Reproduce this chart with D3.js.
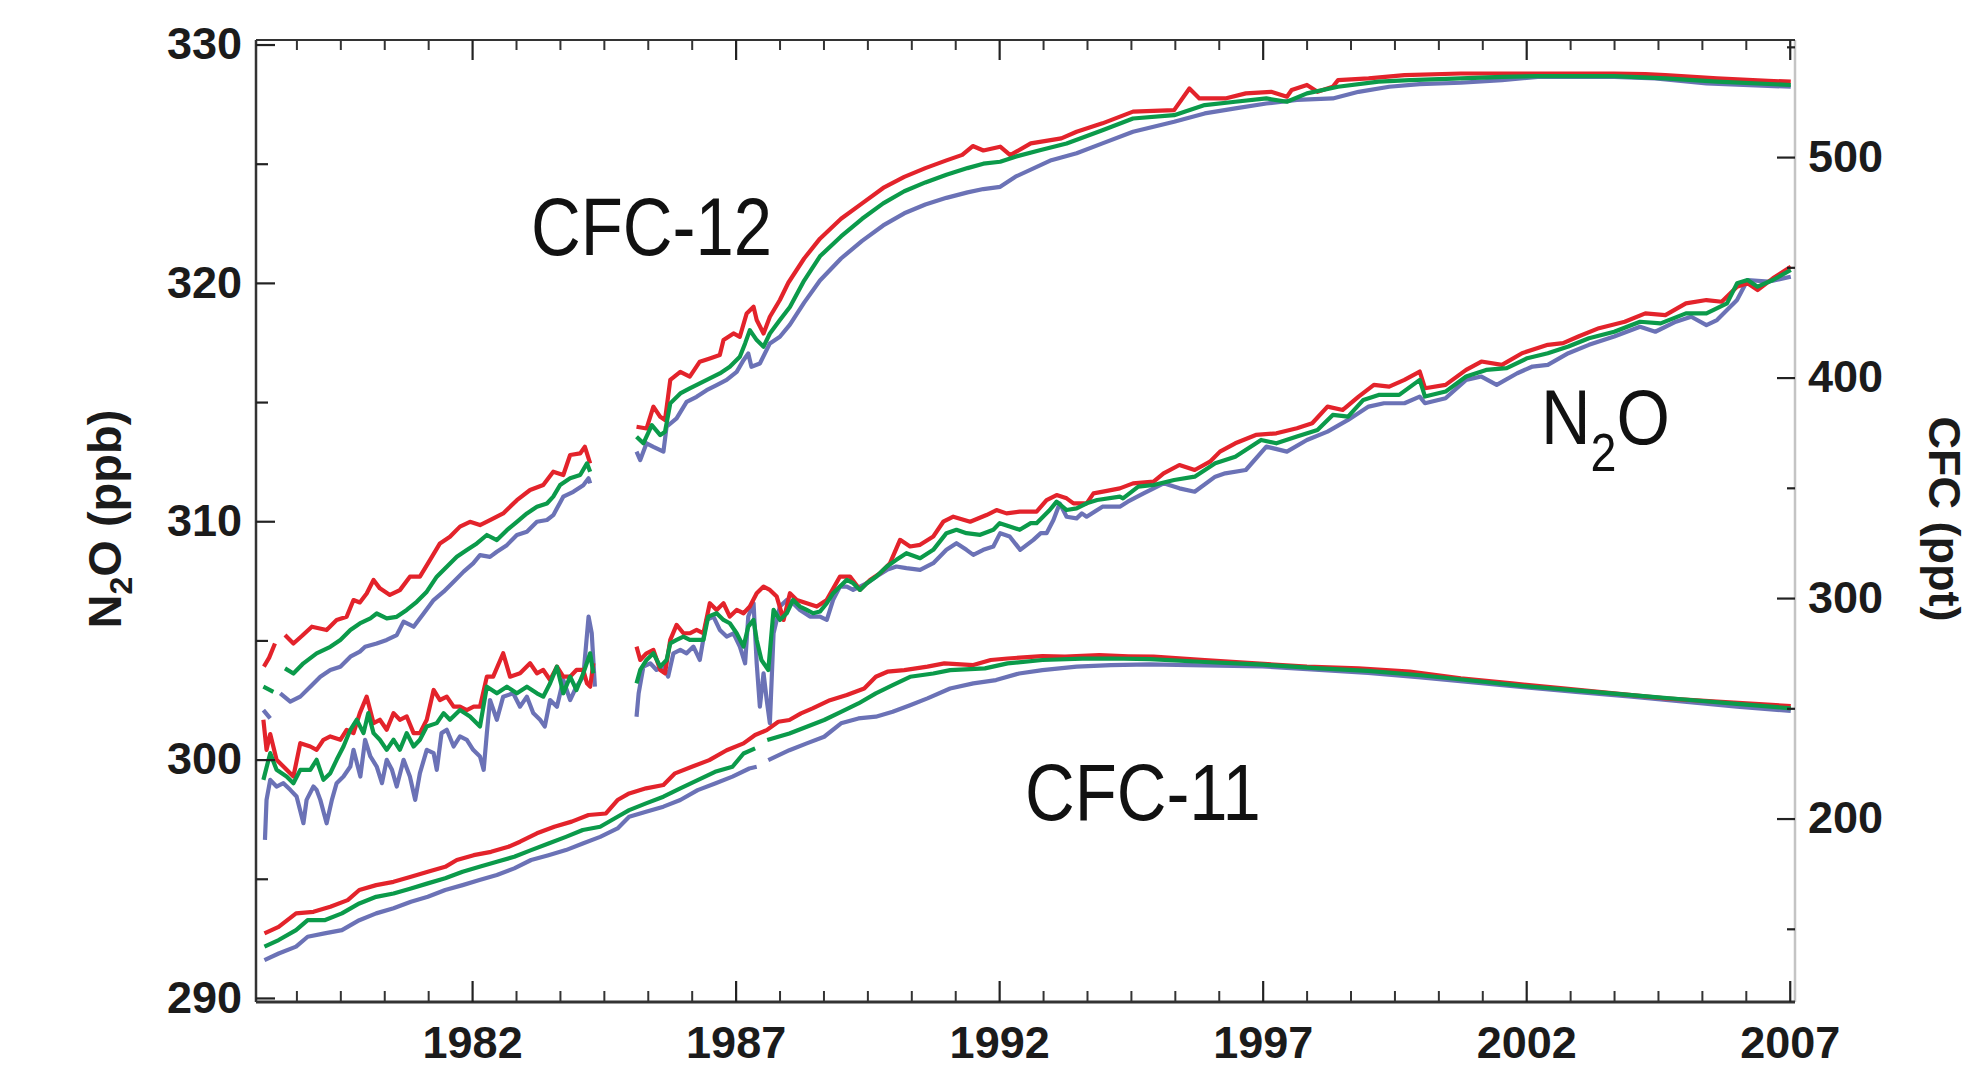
<!DOCTYPE html>
<html><head><meta charset="utf-8">
<script src="https://cdn.jsdelivr.net/npm/d3@7"></script>
<style>body{margin:0;background:#fff}</style>
</head><body><svg id="chart" width="1973" height="1075"></svg>
<script>
// ---- tick values ----
const n2oTicks = [290, 300, 310, 320, 330];
const n2oMinorTicks = [295, 305, 315, 325];
const cfcTicks = [200, 300, 400, 500];
const cfcMinorTicks = [150, 250, 350, 450, 550];
const yearLabels = [1982, 1987, 1992, 1997, 2002, 2007];

// ---- series: [year, value]; null = gap in record ----
const cfc12Red = [[1978.05,268.9],[1978.15,273],[1978.26,279.4],null,[1978.45,283.2],[1978.61,279.4],[1978.78,283],[1978.96,287.0],[1979.24,285.5],[1979.43,290.0],[1979.62,291.5],[1979.75,299.1],[1979.87,298],[1980.00,302.1],[1980.13,308.2],[1980.25,304.4],[1980.44,301.4],[1980.63,303.6],[1980.82,309.7],[1981.01,309.7],[1981.20,317.2],[1981.39,324.8],[1981.58,327.8],[1981.77,332.4],[1981.96,334.6],[1982.15,333.1],[1982.34,335.4],[1982.59,338.4],[1982.85,344.4],[1983.10,349.0],[1983.35,351.3],[1983.54,357.3],[1983.73,355.8],[1983.86,364.9],[1984.05,365.6],[1984.14,368.6],[1984.24,361.1],null,
[1985.12,377.7],[1985.31,376.9],[1985.44,386.8],[1985.57,382.2],[1985.66,380.7],[1985.76,398.9],[1985.95,402.6],[1986.13,400.4],[1986.32,407.2],[1986.51,408.7],[1986.70,410.2],[1986.77,417.0],[1986.96,420.0],[1987.08,418.5],[1987.21,429.1],[1987.34,432.1],[1987.40,426.1],[1987.53,420.0],[1987.65,427.6],[1987.84,435.2],[1988.0,443],[1988.3,454],[1988.6,463],[1989.0,472],[1989.4,479],[1989.8,486],[1990.2,491],[1990.6,495],[1991.0,498.5],[1991.3,501],[1991.5,505],[1991.7,503],[1992.02,504.7],[1992.21,500.9],[1992.60,506.2],[1993.18,508.5],[1993.47,511.5],[1993.96,515.3],[1994.54,520.6],[1995.32,521.3],[1995.61,531.1],[1995.80,526.6],[1996.29,526.6],[1996.68,528.9],[1997.16,529.6],[1997.46,527.4],[1997.55,530.4],[1997.84,532.7],[1998.04,529.6],[1998.33,531.9],[1998.43,534.9],[1999.01,535.7],[1999.69,537.2],[2000.76,537.9],[2001.73,537.9],[2002.70,537.9],[2003.67,537.9],[2004.26,537.6],[2004.64,537.2],[2005.62,535.7],[2006.59,534.6],[2007.02,534.2]];
const cfc12Green = [[1978.04,259.8],[1978.23,257.5],null,[1978.45,268.1],[1978.61,265.8],[1978.80,270.4],[1979.05,274.9],[1979.31,277.9],[1979.50,281.0],[1979.69,285.5],[1979.87,288.5],[1980.07,290.8],[1980.19,293.0],[1980.38,290.8],[1980.57,291.5],[1980.76,294.6],[1980.95,298.3],[1981.14,302.9],[1981.33,309.7],[1981.52,314.2],[1981.71,318.7],[1981.90,321.8],[1982.09,324.8],[1982.28,328.6],[1982.47,326.3],[1982.66,330.8],[1982.85,334.6],[1983.04,338.4],[1983.23,341.4],[1983.42,342.9],[1983.54,346.0],[1983.67,351.3],[1983.86,354.3],[1984.05,355.8],[1984.18,361.1],[1984.24,357.3],null,
[1985.12,373.2],[1985.25,370.2],[1985.41,378.4],[1985.57,373.9],[1985.66,375.4],[1985.76,388.3],[1985.95,392.8],[1986.13,395.1],[1986.32,397.4],[1986.51,399.6],[1986.70,401.9],[1986.89,404.9],[1987.08,409.4],[1987.18,415.5],[1987.27,421.5],[1987.40,417.0],[1987.53,414.0],[1987.65,420.0],[1987.84,426.1],[1988.03,432],[1988.3,444],[1988.6,455],[1989.0,464],[1989.4,472],[1989.8,479],[1990.2,484.5],[1990.6,488.5],[1991.0,492],[1991.4,495],[1991.7,497],[1992.02,497.9],[1992.31,500.2],[1992.79,503.2],[1993.28,506.2],[1993.96,512.2],[1994.54,517.5],[1995.32,519.0],[1995.90,523.6],[1996.48,525.1],[1997.07,526.6],[1997.46,525.1],[1997.84,528.9],[1998.43,531.9],[1999.20,534.2],[1999.79,534.9],[2000.76,535.7],[2001.54,536.4],[2002.22,536.7],[2003.67,536.7],[2004.64,535.7],[2005.62,534.2],[2007.02,532.7]];
const cfc12Blue = [[1978.04,249.2],[1978.17,245.4],null,[1978.36,256.8],[1978.55,253.0],[1978.74,255.3],[1978.93,259.8],[1979.12,264.3],[1979.31,267.4],[1979.50,268.9],[1979.69,273.4],[1979.87,275.7],[1979.97,277.9],[1980.19,279.4],[1980.38,281.0],[1980.57,283.2],[1980.70,289.3],[1980.89,287.0],[1981.08,293.0],[1981.27,299.1],[1981.46,302.9],[1981.65,307.4],[1981.84,312.0],[1982.02,315.7],[1982.15,319.5],[1982.34,318.7],[1982.47,321.0],[1982.66,324.0],[1982.85,328.6],[1983.04,330.1],[1983.23,334.6],[1983.42,335.4],[1983.54,337.6],[1983.73,346.0],[1983.92,348.2],[1984.11,351.2],[1984.21,354.3],[1984.24,352.0],null,
[1985.12,366.4],[1985.19,362.6],[1985.31,370.2],[1985.44,368.6],[1985.63,366.4],[1985.69,377.7],[1985.88,381.5],[1986.07,389.0],[1986.26,391.3],[1986.45,394.3],[1986.64,396.6],[1986.83,398.9],[1987.02,402.6],[1987.15,407.9],[1987.24,410.9],[1987.30,404.9],[1987.46,406.4],[1987.65,415.5],[1987.84,418.5],[1988.03,424],[1988.3,434],[1988.6,444],[1989.0,454],[1989.4,462],[1989.8,469],[1990.2,474.5],[1990.6,478.5],[1991.0,481.5],[1991.4,484],[1991.7,485.5],[1992.02,486.5],[1992.31,491.1],[1992.99,498.6],[1993.47,501.7],[1993.96,506.2],[1994.54,511.5],[1995.32,516.0],[1995.90,519.8],[1996.48,522.1],[1997.07,524.3],[1997.65,525.9],[1998.33,526.6],[1998.82,529.6],[1999.40,531.9],[1999.98,533.1],[2000.76,533.7],[2001.54,534.9],[2002.22,536.4],[2003.67,536.4],[2004.45,535.7],[2005.42,533.4],[2007.02,531.9]];

const n2oRed = [[1978.04,301.67],[1978.10,300.41],[1978.17,301.07],[1978.29,299.99],[1978.42,299.71],[1978.61,299.29],[1978.74,300.69],[1978.93,300.55],[1979.05,300.41],[1979.18,300.83],[1979.31,300.97],[1979.50,300.83],[1979.62,301.25],[1979.75,301.11],[1979.87,301.95],[1980.00,302.64],[1980.13,301.53],[1980.25,301.67],[1980.38,301.25],[1980.51,301.95],[1980.63,301.67],[1980.76,301.81],[1980.89,301.11],[1981.01,301.11],[1981.14,301.67],[1981.27,302.92],[1981.39,302.50],[1981.52,302.64],[1981.65,302.22],[1981.77,302.22],[1981.90,302.08],[1982.03,302.22],[1982.15,302.22],[1982.28,303.48],[1982.40,303.48],[1982.59,304.46],[1982.72,303.48],[1982.91,303.62],[1983.10,304.04],[1983.23,303.62],[1983.35,303.76],[1983.48,303.34],[1983.61,303.90],[1983.73,303.48],[1983.86,303.48],[1983.98,303.76],[1984.11,303.76],[1984.18,303.20],[1984.24,303.06],[1984.30,304.04],null,
[1985.12,304.74],[1985.19,304.18],[1985.31,304.46],[1985.44,304.60],[1985.57,303.76],[1985.66,303.62],[1985.76,305.02],[1985.88,305.65],[1986.01,305.30],[1986.13,305.30],[1986.26,305.44],[1986.39,305.30],[1986.51,306.56],[1986.64,306.28],[1986.77,306.56],[1986.89,306.00],[1987.02,306.28],[1987.15,306.14],[1987.27,306.42],[1987.40,306.98],[1987.53,307.26],[1987.65,307.12],[1987.78,306.84],[1987.91,305.86],[1988.03,306.98],[1988.16,306.70],[1988.35,306.56],[1988.54,306.42],[1988.73,306.70],[1988.98,307.68],[1989.17,307.68],[1989.36,307.12],[1989.55,307.54],[1989.74,307.82],[1989.93,308.24],[1990.12,309.22],[1990.31,308.94],[1990.50,309.01],[1990.75,309.36],[1990.94,309.98],[1991.13,310.19],[1991.45,309.98],[1991.76,310.26],[1991.95,310.47],[1992.14,310.33],[1992.39,310.40],[1992.71,310.40],[1992.90,310.89],[1993.09,311.10],[1993.28,310.96],[1993.41,310.75],[1993.66,310.75],[1993.79,311.17],[1993.97,311.24],[1994.29,311.38],[1994.54,311.59],[1994.93,311.66],[1995.12,312.01],[1995.42,312.36],[1995.71,312.15],[1996.00,312.50],[1996.19,312.92],[1996.48,313.27],[1996.87,313.62],[1997.26,313.69],[1997.65,313.90],[1997.94,314.11],[1998.23,314.81],[1998.52,314.67],[1998.82,315.23],[1999.11,315.72],[1999.40,315.65],[1999.69,315.93],[1999.98,316.28],[2000.08,315.58],[2000.47,315.72],[2000.86,316.35],[2001.15,316.70],[2001.54,316.56],[2001.92,317.05],[2002.41,317.40],[2002.70,317.47],[2002.99,317.75],[2003.38,318.10],[2003.87,318.37],[2004.26,318.72],[2004.64,318.65],[2005.03,319.14],[2005.42,319.28],[2005.71,319.21],[2006.00,319.84],[2006.20,319.98],[2006.39,319.70],[2006.68,320.19],[2007.02,320.68]];
const n2oGreen = [[1978.04,299.15],[1978.17,300.27],[1978.29,299.57],[1978.48,299.29],[1978.61,299.01],[1978.74,299.57],[1978.93,299.57],[1979.05,299.99],[1979.18,299.15],[1979.31,299.43],[1979.43,299.99],[1979.56,300.55],[1979.69,301.25],[1979.81,301.67],[1979.94,301.11],[1980.03,301.95],[1980.13,301.11],[1980.25,300.83],[1980.38,300.41],[1980.51,300.83],[1980.63,300.41],[1980.76,301.11],[1980.89,300.55],[1981.01,300.83],[1981.14,301.39],[1981.33,301.53],[1981.46,301.95],[1981.58,301.67],[1981.77,302.08],[1981.96,301.81],[1982.15,301.39],[1982.28,303.06],[1982.47,302.78],[1982.66,303.06],[1982.85,302.78],[1983.04,303.06],[1983.23,302.78],[1983.35,302.64],[1983.48,303.20],[1983.61,303.90],[1983.73,302.78],[1983.86,303.48],[1983.98,302.92],[1984.11,303.62],[1984.24,304.46],[1984.30,303.62],null,
[1985.12,303.20],[1985.19,303.76],[1985.31,304.18],[1985.44,304.46],[1985.57,303.90],[1985.69,304.18],[1985.76,304.88],[1985.88,305.02],[1986.01,305.16],[1986.13,305.02],[1986.26,305.02],[1986.39,305.02],[1986.48,306.00],[1986.64,306.14],[1986.77,305.86],[1986.89,305.72],[1987.02,305.30],[1987.15,304.74],[1987.24,305.58],[1987.34,305.86],[1987.40,305.02],[1987.49,304.18],[1987.62,303.76],[1987.72,306.28],[1987.84,305.86],[1987.97,306.14],[1988.09,306.70],[1988.22,306.42],[1988.35,306.28],[1988.47,306.14],[1988.60,306.21],[1988.73,306.56],[1988.85,306.98],[1988.98,307.26],[1989.11,307.54],[1989.23,307.40],[1989.36,307.12],[1989.49,307.40],[1989.67,307.68],[1989.87,308.10],[1990.05,308.38],[1990.24,308.66],[1990.50,308.45],[1990.75,308.80],[1991.00,309.50],[1991.19,309.64],[1991.38,309.50],[1991.64,309.43],[1991.89,309.64],[1992.01,309.92],[1992.20,309.78],[1992.39,309.64],[1992.60,309.92],[1992.71,309.92],[1992.96,310.47],[1993.09,310.82],[1993.28,310.47],[1993.47,310.54],[1993.66,310.75],[1993.86,310.89],[1994.29,311.03],[1994.35,310.96],[1994.64,311.45],[1994.93,311.52],[1995.32,311.73],[1995.71,311.87],[1996.10,312.43],[1996.48,312.71],[1996.97,313.41],[1997.26,313.27],[1997.65,313.55],[1998.04,313.83],[1998.33,314.46],[1998.62,314.39],[1998.91,315.09],[1999.20,315.30],[1999.59,315.30],[1999.98,315.93],[2000.08,315.23],[2000.47,315.44],[2000.86,316.07],[2001.24,316.35],[2001.63,316.42],[2002.02,316.84],[2002.41,317.05],[2002.80,317.33],[2003.19,317.68],[2003.67,317.95],[2004.16,318.37],[2004.55,318.30],[2005.03,318.72],[2005.42,318.72],[2005.81,319.14],[2006.00,319.98],[2006.20,320.12],[2006.39,319.84],[2006.68,320.12],[2007.02,320.54]];
const n2oBlue = [[1978.07,296.63],[1978.10,298.31],[1978.17,299.15],[1978.29,298.87],[1978.42,299.01],[1978.55,298.73],[1978.67,298.45],[1978.80,297.33],[1978.86,298.31],[1978.99,298.87],[1979.05,298.73],[1979.12,298.31],[1979.24,297.33],[1979.34,298.31],[1979.43,299.01],[1979.56,299.29],[1979.69,299.71],[1979.75,300.41],[1979.88,299.29],[1979.97,300.83],[1980.07,300.13],[1980.19,299.71],[1980.29,299.01],[1980.38,299.99],[1980.48,299.57],[1980.57,298.87],[1980.70,299.99],[1980.82,299.29],[1980.92,298.31],[1981.01,299.43],[1981.14,300.41],[1981.27,300.27],[1981.33,299.57],[1981.42,301.11],[1981.52,301.25],[1981.65,300.55],[1981.77,300.97],[1981.90,300.83],[1982.02,300.41],[1982.15,300.13],[1982.22,299.57],[1982.28,301.11],[1982.34,302.50],[1982.47,301.67],[1982.59,302.64],[1982.78,302.78],[1982.91,302.22],[1983.04,302.64],[1983.16,301.95],[1983.29,301.67],[1983.38,301.39],[1983.48,302.50],[1983.61,302.22],[1983.73,303.34],[1983.86,302.50],[1983.98,303.06],[1984.11,303.48],[1984.21,306.00],[1984.27,305.30],[1984.33,303.06],null,
[1985.12,301.80],[1985.16,302.78],[1985.25,303.90],[1985.38,304.04],[1985.50,303.76],[1985.63,303.90],[1985.72,303.48],[1985.82,304.46],[1985.95,304.60],[1986.07,304.46],[1986.20,304.74],[1986.32,304.18],[1986.45,305.86],[1986.58,306.00],[1986.70,305.44],[1986.83,305.16],[1986.96,305.30],[1987.08,304.74],[1987.18,304.04],[1987.24,306.00],[1987.34,306.56],[1987.40,304.04],[1987.46,302.22],[1987.53,303.62],[1987.59,302.50],[1987.65,301.53],[1987.72,305.30],[1987.84,306.42],[1987.97,306.70],[1988.09,306.56],[1988.22,306.28],[1988.41,306.00],[1988.60,306.00],[1988.73,305.86],[1988.85,306.70],[1988.98,307.26],[1989.11,307.26],[1989.23,307.12],[1989.36,307.26],[1989.49,307.40],[1989.67,307.68],[1989.87,307.96],[1990.05,308.10],[1990.24,308.03],[1990.50,307.96],[1990.75,308.24],[1991.00,308.80],[1991.19,309.08],[1991.38,308.80],[1991.51,308.59],[1991.70,308.80],[1991.89,308.94],[1992.02,309.50],[1992.20,309.36],[1992.40,308.80],[1992.65,309.22],[1992.79,309.50],[1992.90,309.50],[1993.03,310.05],[1993.15,310.75],[1993.28,310.19],[1993.47,310.12],[1993.57,310.33],[1993.66,310.19],[1993.96,310.61],[1994.29,310.61],[1994.44,310.82],[1994.74,311.17],[1995.12,311.59],[1995.42,311.38],[1995.71,311.24],[1996.10,311.87],[1996.29,312.01],[1996.68,312.15],[1997.07,313.13],[1997.46,312.92],[1997.84,313.41],[1998.23,313.76],[1998.62,314.25],[1999.01,314.81],[1999.30,314.95],[1999.69,314.95],[1999.98,315.23],[2000.08,314.95],[2000.47,315.16],[2000.86,315.93],[2001.15,316.07],[2001.44,315.72],[2001.83,316.21],[2002.12,316.49],[2002.41,316.56],[2002.80,317.05],[2003.19,317.40],[2003.67,317.75],[2004.16,318.16],[2004.45,317.95],[2004.84,318.37],[2005.13,318.58],[2005.42,318.23],[2005.62,318.44],[2006.00,319.28],[2006.20,320.12],[2006.59,320.05],[2007.02,320.26]];

const cfc11Red = [[1978.06,147.9],[1978.33,150.9],[1978.66,157.0],[1978.99,157.7],[1979.31,160.0],[1979.64,163.0],[1979.86,167.6],[1980.18,169.8],[1980.51,171.3],[1980.84,173.6],[1981.16,175.9],[1981.49,178.1],[1981.71,181.2],[1982.03,183.4],[1982.36,184.9],[1982.69,187.2],[1982.91,189.5],[1983.23,193.3],[1983.56,196.3],[1983.89,198.6],[1984.21,201.6],[1984.54,202.3],[1984.76,208.4],[1984.98,211.4],[1985.30,213.7],[1985.63,215.2],[1985.85,220.5],[1986.17,223.5],[1986.50,226.5],[1986.83,231.0],[1987.15,234.1],[1987.37,237.9],[1987.59,240.1],[1987.81,243.9],[1988.02,244.7],[1988.24,247.7],[1988.46,250.0],[1988.79,253.7],[1989.11,256.0],[1989.44,259.0],[1989.66,264.3],[1989.88,266.6],[1990.20,267.3],[1990.64,268.9],[1990.96,270.4],[1991.51,269.6],[1991.84,271.9],[1992.16,272.6],[1992.82,273.7],[1993.25,273.4],[1993.90,274.1],[1994.45,273.6],[1994.93,273.4],[1995.90,271.9],[1996.87,270.4],[1997.84,268.9],[1998.82,268.1],[1999.79,266.6],[2000.76,263.6],[2001.73,261.3],[2002.70,259.0],[2003.67,256.8],[2004.64,254.5],[2005.62,253.0],[2006.50,251.8],[2007.02,251.0]];
const cfc11Green = [[1978.06,141.9],[1978.33,144.9],[1978.66,149.4],[1978.88,153.9],[1979.20,153.9],[1979.53,157.0],[1979.86,161.5],[1980.18,164.5],[1980.51,166.0],[1980.84,168.3],[1981.16,170.6],[1981.49,172.9],[1981.82,175.9],[1982.14,178.1],[1982.47,180.4],[1982.80,182.7],[1983.12,185.7],[1983.45,188.7],[1983.78,191.7],[1984.10,194.8],[1984.43,196.3],[1984.76,200.8],[1984.98,203.8],[1985.30,206.9],[1985.63,209.9],[1985.95,213.7],[1986.28,217.4],[1986.61,221.2],[1986.94,223.5],[1987.15,229.5],[1987.37,231.8],null,[1987.60,235.6],[1988.02,238.6],[1988.35,241.6],[1988.68,244.7],[1989.00,248.4],[1989.33,252.2],[1989.66,256.8],[1989.98,260.5],[1990.31,264.3],[1990.75,265.8],[1991.07,267.3],[1991.73,268.1],[1992.16,270.4],[1992.82,271.9],[1993.58,272.5],[1994.12,272.6],[1994.86,272.3],[1995.90,271.0],[1997.00,269.8],[1998.00,268.2],[1999.00,267.0],[2000.00,265.0],[2001.00,262.5],[2002.00,260.0],[2003.00,258.0],[2004.00,256.0],[2005.00,254.0],[2006.00,252.0],[2007.02,250.0]];
const cfc11Blue = [[1978.06,135.8],[1978.33,138.8],[1978.66,141.9],[1978.88,146.4],[1979.20,147.9],[1979.53,149.4],[1979.86,153.9],[1980.18,157.0],[1980.51,159.3],[1980.84,162.3],[1981.16,164.5],[1981.49,167.6],[1981.82,169.8],[1982.14,172.1],[1982.47,174.4],[1982.80,177.4],[1983.12,181.2],[1983.45,183.4],[1983.78,185.7],[1984.10,188.7],[1984.43,191.7],[1984.76,195.5],[1984.98,200.8],[1985.30,203.1],[1985.63,205.4],[1985.95,208.4],[1986.28,212.9],[1986.61,215.9],[1986.94,219.0],[1987.26,222.7],[1987.40,223.5],null,[1987.62,226.5],[1988.02,231.0],[1988.35,234.1],[1988.68,237.1],[1989.00,243.2],[1989.33,245.4],[1989.66,246.2],[1989.98,248.4],[1990.31,251.4],[1990.64,254.5],[1991.07,259.0],[1991.51,261.3],[1991.94,262.8],[1992.38,265.8],[1992.82,267.3],[1993.47,268.9],[1994.12,269.6],[1994.86,269.9],[1995.90,269.5],[1997.00,269.0],[1998.00,267.5],[1999.00,266.0],[2000.00,264.0],[2001.00,261.8],[2002.00,259.5],[2003.00,257.3],[2004.00,255.3],[2005.00,253.0],[2006.00,250.8],[2007.02,248.8]];

const stationColors = {red: "#e3232b", green: "#0b9a4a", blue: "#6b72b6"};

// ---- chart ----
const svg = d3.select("#chart");
const plot = {left: 256, right: 1795, top: 40, bottom: 1002};
const x = d3.scaleLinear().domain([1977.9, 2007.1]).range([plot.left, plot.right]);
const yN = d3.scaleLinear().domain([289.83, 330.19]).range([plot.bottom, plot.top]);
const yC = d3.scaleLinear().domain([116.8, 553.1]).range([plot.bottom, plot.top]);
const FONT = "'Liberation Sans', Arial, sans-serif";
const INK = "#1b1b1b";

const minorYears = d3.range(-4, 31).filter(k => k % 6 !== 0).map(k => 1982 + k * 5 / 6);

function styleAxis(g, color, width) {
  g.select(".domain").remove();
  g.selectAll(".tick line").attr("stroke", color || "#222").attr("stroke-width", width || 2);
}

// lines
const gLines = svg.append("g");
function drawSeries(data, yScale, color) {
  const line = d3.line().defined(d => d !== null).x(d => x(d[0])).y(d => yScale(d[1]));
  gLines.append("path").datum(data)
    .attr("d", line).attr("fill", "none").attr("stroke", color)
    .attr("stroke-width", 4.2).attr("stroke-linejoin", "round").attr("stroke-linecap", "butt");
}
[[cfc12Blue, yC, "blue"], [cfc11Blue, yC, "blue"], [n2oBlue, yN, "blue"],
 [cfc12Red, yC, "red"], [cfc11Red, yC, "red"], [n2oRed, yN, "red"],
 [cfc12Green, yC, "green"], [cfc11Green, yC, "green"], [n2oGreen, yN, "green"]]
  .forEach(([d, ys, c]) => drawSeries(d, ys, stationColors[c]));

// frame
svg.append("line").attr("x1", plot.right).attr("x2", plot.right).attr("y1", plot.top).attr("y2", plot.bottom)
  .attr("stroke", "#c4c4c4").attr("stroke-width", 2.5);
svg.append("line").attr("x1", plot.left).attr("x2", plot.right).attr("y1", plot.top).attr("y2", plot.top)
  .attr("stroke", "#333").attr("stroke-width", 2.2);
svg.append("line").attr("x1", plot.left).attr("x2", plot.right).attr("y1", plot.bottom).attr("y2", plot.bottom)
  .attr("stroke", "#333").attr("stroke-width", 2.8);
svg.append("line").attr("x1", plot.left).attr("x2", plot.left).attr("y1", plot.top).attr("y2", plot.bottom)
  .attr("stroke", "#333").attr("stroke-width", 2.5);

// bottom axis
const gB = svg.append("g").attr("transform", `translate(0,${plot.bottom})`)
  .call(d3.axisBottom(x).tickValues(yearLabels).tickSize(-21).tickPadding(24).tickFormat(d3.format("d")));
styleAxis(gB, "#222", 2.2);
gB.selectAll("text").attr("font-family", FONT).attr("font-weight", "bold").attr("font-size", 45).attr("fill", INK);
const gBm = svg.append("g").attr("transform", `translate(0,${plot.bottom})`)
  .call(d3.axisBottom(x).tickValues(minorYears).tickSize(-11).tickFormat(""));
styleAxis(gBm, "#333", 2);

// top axis
const gT = svg.append("g").attr("transform", `translate(0,${plot.top})`)
  .call(d3.axisTop(x).tickValues(yearLabels).tickSize(-20).tickFormat(""));
styleAxis(gT, "#222", 2.2);
const gTm = svg.append("g").attr("transform", `translate(0,${plot.top})`)
  .call(d3.axisTop(x).tickValues(minorYears).tickSize(-10).tickFormat(""));
styleAxis(gTm, "#333", 2);

// left axis
const gL = svg.append("g").attr("transform", `translate(${plot.left},0)`)
  .call(d3.axisLeft(yN).tickValues(n2oTicks).tickSize(-19).tickPadding(14).tickFormat(d3.format("d")));
styleAxis(gL, "#222", 2.2);
gL.selectAll("text").attr("font-family", FONT).attr("font-weight", "bold").attr("font-size", 45).attr("fill", INK);
const gLm = svg.append("g").attr("transform", `translate(${plot.left},0)`)
  .call(d3.axisLeft(yN).tickValues(n2oMinorTicks).tickSize(-12).tickFormat(""));
styleAxis(gLm, "#222", 2.2);

// right axis
const gR = svg.append("g").attr("transform", `translate(${plot.right},0)`)
  .call(d3.axisRight(yC).tickValues(cfcTicks).tickSize(-18).tickPadding(13).tickFormat(d3.format("d")));
styleAxis(gR, "#222", 2.2);
gR.selectAll("text").attr("font-family", FONT).attr("font-weight", "bold").attr("font-size", 45).attr("fill", INK);
const gRm = svg.append("g").attr("transform", `translate(${plot.right},0)`)
  .call(d3.axisRight(yC).tickValues(cfcMinorTicks).tickSize(-8).tickFormat(""));
styleAxis(gRm, "#222", 2.2);

// axis titles
const tl = svg.append("text").attr("transform", "translate(121,519) rotate(-90)")
  .attr("text-anchor", "middle").attr("font-family", FONT).attr("font-weight", "bold")
  .attr("font-size", 47).attr("fill", INK);
tl.append("tspan").text("N");
tl.append("tspan").attr("font-size", 32).attr("dy", 11).text("2");
tl.append("tspan").attr("dy", -11).text("O (ppb)");

svg.append("text").attr("transform", "translate(1929,519) rotate(90)")
  .attr("text-anchor", "middle").attr("font-family", FONT).attr("font-weight", "bold")
  .attr("font-size", 45).attr("fill", INK).text("CFC (ppt)");

// gas labels (condensed sans)
function gasLabel(px, py, sx, size) {
  return svg.append("g").attr("transform", `translate(${px},${py}) scale(${sx},1)`)
    .append("text").attr("font-family", FONT).attr("font-size", size).attr("fill", "#111");
}
gasLabel(531, 255, 0.85, 81).text("CFC-12");
gasLabel(1025, 820, 0.86, 80).text("CFC-11");
const nl = gasLabel(1541, 444, 0.88, 78);
nl.append("tspan").text("N");
nl.append("tspan").attr("font-size", 53).attr("dy", 27).text("2");
nl.append("tspan").attr("dy", -27).text("O");
</script>
</body></html>
